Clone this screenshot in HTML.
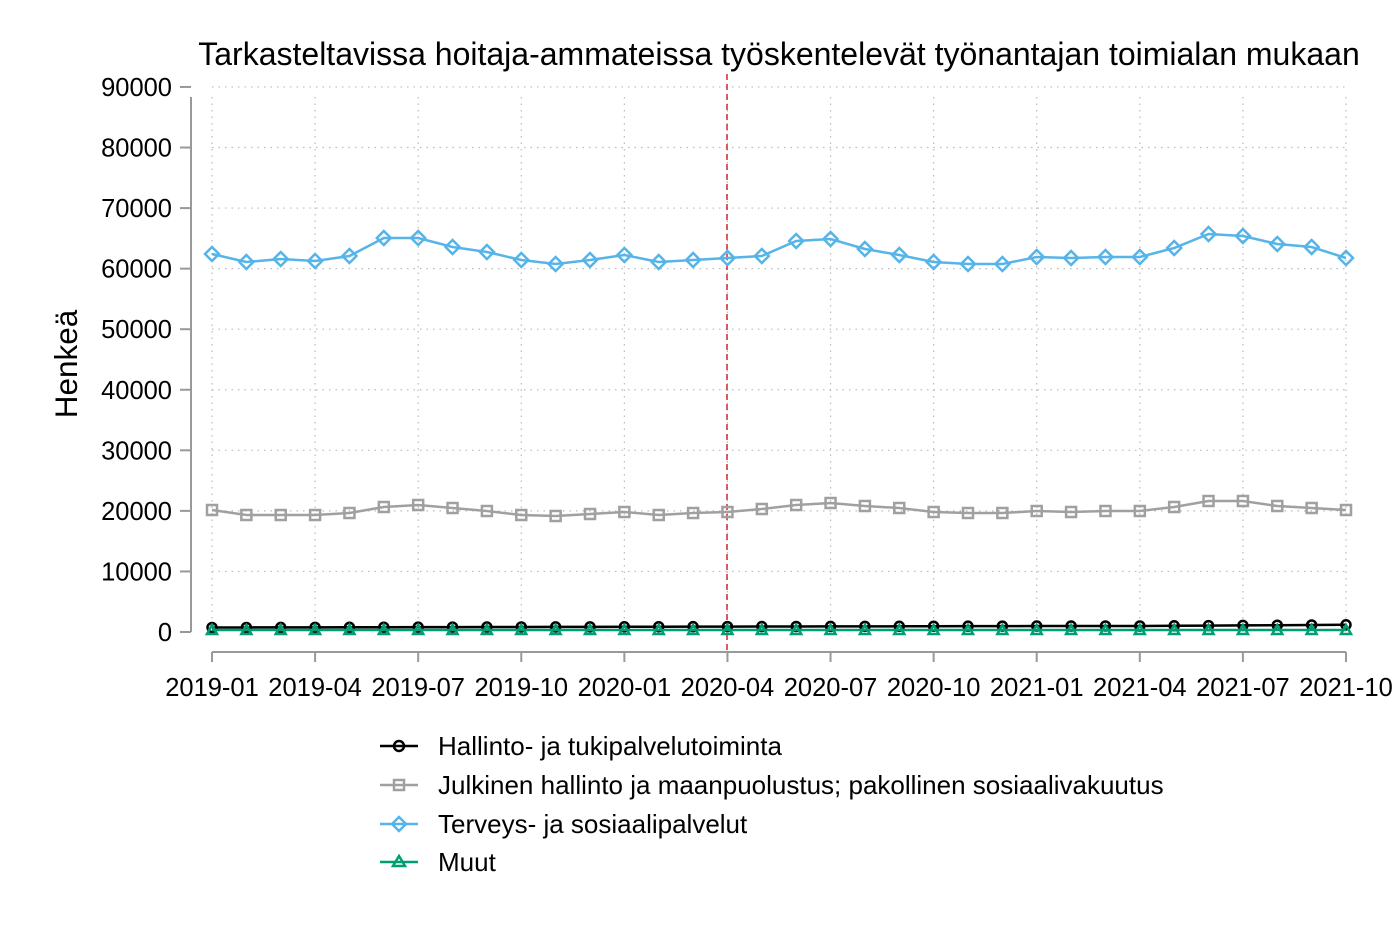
<!DOCTYPE html>
<html><head><meta charset="utf-8"><style>body{margin:0;background:#fff}svg{display:block}text{font-family:"Liberation Sans",Arial,sans-serif}</style></head>
<body>
<svg id="s" width="1400" height="933" viewBox="0 0 1400 933" xmlns="http://www.w3.org/2000/svg">
<text x="779" y="65" font-size="32" text-anchor="middle">Tarkasteltavissa hoitaja-ammateissa työskentelevät työnantajan toimialan mukaan</text>
<g id="grid" stroke="#bbb" stroke-width="1.2" stroke-dasharray="1.5,5"></g>
<line x1="191" y1="97" x2="191" y2="632" stroke="#999" stroke-width="2"/>
<line x1="212" y1="652" x2="1346" y2="652" stroke="#999" stroke-width="2"/>
<g id="ax" font-size="25.5" fill="#000"></g>
<text transform="translate(77,364) rotate(-90)" font-size="31.5" text-anchor="middle">Henkeä</text>
<line x1="727" y1="74" x2="727" y2="652" stroke="#d62728" stroke-width="1.5" stroke-dasharray="6,4"/>
<g id="series"></g>
<g font-size="26">
<line x1="380" y1="746" x2="418" y2="746" stroke="#000" stroke-width="2.5"/><circle cx="399" cy="746" r="5" fill="none" stroke="#000" stroke-width="2.5"/>
<text x="438" y="755">Hallinto- ja tukipalvelutoiminta</text>
<line x1="380" y1="785" x2="418" y2="785" stroke="#a0a0a0" stroke-width="2.5"/><rect x="394" y="780" width="10" height="10" fill="none" stroke="#a0a0a0" stroke-width="2.5"/>
<text x="438" y="794">Julkinen hallinto ja maanpuolustus; pakollinen sosiaalivakuutus</text>
<line x1="380" y1="824" x2="418" y2="824" stroke="#56b4e9" stroke-width="2.5"/><path d="M399 817 L406 824 L399 831 L392 824Z" fill="none" stroke="#56b4e9" stroke-width="2.5"/>
<text x="438" y="833">Terveys- ja sosiaalipalvelut</text>
<line x1="380" y1="862" x2="418" y2="862" stroke="#009e73" stroke-width="2.5"/><path d="M399 856 L405 866 L393 866Z" fill="none" stroke="#009e73" stroke-width="2.5"/>
<text x="438" y="871">Muut</text>
</g>
</svg>
<script>
const NS="http://www.w3.org/2000/svg";
function el(p,t,a){const e=document.createElementNS(NS,t);for(const k in a)e.setAttribute(k,a[k]);p.appendChild(e);return e;}
const g=document.getElementById('grid'),ax=document.getElementById('ax'),se=document.getElementById('series');
const X=i=>212+i*(1134/33);
for(let v=0;v<=9;v++){const y=632-v*60.56;
 if(v>0)el(g,'line',{x1:212,y1:y,x2:1346,y2:y});
 el(ax,'line',{x1:180,y1:y,x2:191,y2:y,stroke:'#999','stroke-width':2});
 const t=el(ax,'text',{x:172,y:y+9,'text-anchor':'end'});t.textContent=v*10000;}
const labs=['2019-01','2019-04','2019-07','2019-10','2020-01','2020-04','2020-07','2020-10','2021-01','2021-04','2021-07','2021-10'];
labs.forEach((l,k)=>{const x=X(k*3);
 el(g,'line',{x1:x,y1:97,x2:x,y2:632});
 el(ax,'line',{x1:x,y1:652,x2:x,y2:662,stroke:'#999','stroke-width':2});
 const t=el(ax,'text',{x:x,y:696,'text-anchor':'middle'});t.textContent=l;});
const blue=[254,262,259,261,256,238,238,247,252,260,264,260,255,262,260,258,256,241,239,249,255,262,264,264,257,258,257,257,248,234,236,244,247,258];
const gray=[510,515,515,515,513,507,505,508,511,515,516,514,512,515,513,512,509,505,503,506,508,512,513,513,511,512,511,511,507,501,501,506,508,510];
const blk=blue.map((_,i)=>i<27?627.5-i*0.06:626-(i-27)*0.2);
const grn=blue.map(()=>630);
function draw(ys,c,m){el(se,'polyline',{points:ys.map((y,i)=>X(i)+','+y).join(' '),fill:'none',stroke:c,'stroke-width':2.5});
 ys.forEach((y,i)=>{const x=X(i);
  if(m=='c')el(se,'circle',{cx:x,cy:y,r:4.5,fill:'none',stroke:c,'stroke-width':2.5});
  if(m=='s')el(se,'rect',{x:x-5,y:y-5,width:10,height:10,fill:'none',stroke:c,'stroke-width':2.5});
  if(m=='d')el(se,'path',{d:`M${x} ${y-7}L${x+7} ${y}L${x} ${y+7}L${x-7} ${y}Z`,fill:'none',stroke:c,'stroke-width':2.5});
  if(m=='t')el(se,'path',{d:`M${x} ${y-5}L${x+5} ${y+4}L${x-5} ${y+4}Z`,fill:'none',stroke:c,'stroke-width':2.5});});}
draw(gray,'#a0a0a0','s');draw(blue,'#56b4e9','d');draw(blk,'#000','c');draw(grn,'#009e73','t');
</script>
</body></html>
